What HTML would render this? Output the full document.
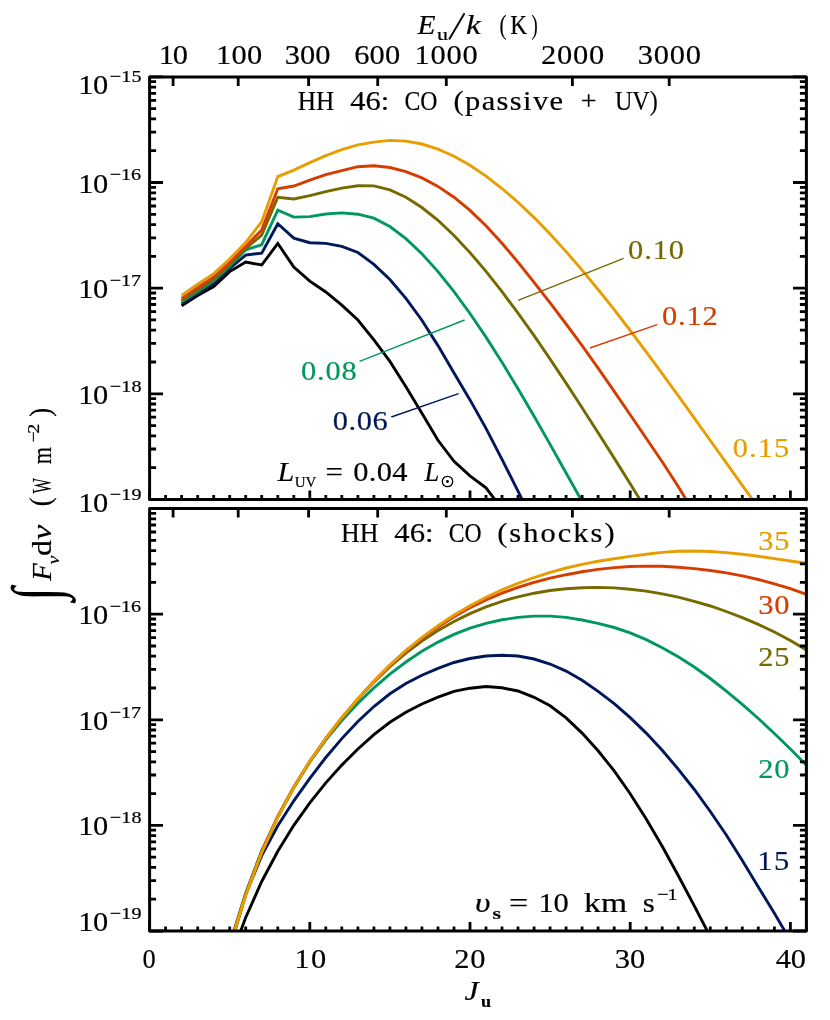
<!DOCTYPE html>
<html><head><meta charset="utf-8"><title>HH 46 CO</title>
<style>
html,body{margin:0;padding:0;background:#fff;}
svg{display:block;will-change:transform;}
text{font-family:"Liberation Serif",serif;fill:#000;}
.t{font-size:26.5px;letter-spacing:1.6px;}
.i{font-style:italic;}
</style></head><body>
<svg width="830" height="1020" viewBox="0 0 830 1020">
<rect width="830" height="1020" fill="#fff"/>
<defs>
<clipPath id="ct"><rect x="149.6" y="76.9" width="656.8" height="422.5"/></clipPath>
<clipPath id="cb"><rect x="149.6" y="508.6" width="656.8" height="422.4"/></clipPath>
</defs>
<g>
<polyline points="181.6,305.7 197.7,295.5 213.7,286.6 229.7,271.6 245.7,262.1 261.7,265.0 277.8,243.5 293.8,267.0 309.8,281.2 325.8,292.0 341.8,305.2 357.9,320.0 373.9,339.8 389.9,361.4 405.9,386.7 421.9,413.2 438.0,440.3 454.0,461.3 470.0,475.8 486.0,487.8 502.0,509.0" fill="none" stroke="#000000" stroke-width="2.9" stroke-linejoin="miter" stroke-miterlimit="6" clip-path="url(#ct)"/>
<polyline points="181.6,303.8 197.7,293.5 213.7,283.6 229.7,268.3 245.7,255.1 261.7,253.1 277.8,223.7 293.8,238.1 309.8,242.7 325.8,243.4 341.8,246.4 357.9,252.5 373.9,264.4 389.9,279.5 405.9,298.3 421.9,320.2 438.0,345.6 454.0,372.9 470.0,399.9 486.0,428.4 502.0,459.3 518.0,491.1 534.1,524.0" fill="none" stroke="#00185A" stroke-width="2.9" stroke-linejoin="miter" stroke-miterlimit="6" clip-path="url(#ct)"/>
<polyline points="181.6,301.8 197.7,291.5 213.7,280.9 229.7,266.3 245.7,249.8 261.7,244.7 277.8,210.1 293.8,217.1 309.8,216.6 325.8,214.0 341.8,212.9 357.9,214.2 373.9,218.1 389.9,226.5 405.9,238.6 421.9,253.8 438.0,271.6 454.0,291.6 470.0,313.5 486.0,337.1 502.0,362.3 518.0,388.7 534.1,416.2 550.1,444.4 566.1,473.0 582.1,501.5" fill="none" stroke="#00985C" stroke-width="2.9" stroke-linejoin="miter" stroke-miterlimit="6" clip-path="url(#ct)"/>
<polyline points="181.6,300.1 197.7,289.5 213.7,278.9 229.7,264.3 245.7,248.4 261.7,235.2 277.8,197.3 293.8,199.0 309.8,195.7 325.8,191.6 341.8,188.1 357.9,185.7 373.9,185.9 389.9,189.9 405.9,197.2 421.9,207.5 438.0,220.3 454.0,235.5 470.0,252.6 486.0,271.4 502.0,291.7 518.0,313.2 534.1,335.7 550.1,359.1 566.1,383.1 582.1,407.7 598.1,432.7 614.2,458.1 630.2,483.7 646.2,509.7" fill="none" stroke="#766900" stroke-width="2.9" stroke-linejoin="miter" stroke-miterlimit="6" clip-path="url(#ct)"/>
<polyline points="181.6,298.4 197.7,287.5 213.7,276.9 229.7,262.4 245.7,246.4 261.7,230.1 277.8,188.7 293.8,186.0 309.8,180.2 325.8,174.7 341.8,170.7 357.9,166.7 373.9,165.8 389.9,167.5 405.9,171.6 421.9,177.9 438.0,186.4 454.0,197.2 470.0,210.4 486.0,225.8 502.0,243.2 518.0,262.3 534.1,282.3 550.1,302.9 566.1,324.0 582.1,345.6 598.1,368.1 614.2,391.3 630.2,414.8 646.2,438.2 662.2,461.8 678.2,486.4 694.3,513.2" fill="none" stroke="#D63C00" stroke-width="2.9" stroke-linejoin="miter" stroke-miterlimit="6" clip-path="url(#ct)"/>
<polyline points="181.6,295.5 197.7,284.2 213.7,273.6 229.7,259.0 245.7,242.5 261.7,221.7 277.8,176.6 293.8,170.1 309.8,162.6 325.8,155.6 341.8,149.6 357.9,144.8 373.9,142.1 389.9,140.4 405.9,141.1 421.9,144.0 438.0,149.1 454.0,156.3 470.0,165.3 486.0,176.1 502.0,188.5 518.0,202.3 534.1,217.6 550.1,234.0 566.1,251.6 582.1,270.1 598.1,289.5 614.2,309.7 630.2,330.5 646.2,351.9 662.2,373.7 678.2,395.7 694.3,418.1 710.3,440.5 726.3,462.9 742.3,485.3 758.3,507.5" fill="none" stroke="#E89E00" stroke-width="2.9" stroke-linejoin="miter" stroke-miterlimit="6" clip-path="url(#ct)"/>
<polyline points="229.7,960.5 245.7,917.5 261.7,881.5 277.8,851.2 293.8,825.3 309.8,802.8 325.8,782.9 341.8,765.1 357.9,749.0 373.9,734.6 389.9,722.3 405.9,712.2 421.9,704.0 438.0,697.1 454.0,691.4 470.0,688.2 486.0,686.5 502.0,687.8 518.0,691.0 534.1,697.3 550.1,705.8 566.1,717.9 582.1,733.1 598.1,750.8 614.2,770.9 630.2,793.7 646.2,818.9 662.2,846.3 678.2,875.5 694.3,905.9 710.3,936.8" fill="none" stroke="#000000" stroke-width="2.9" stroke-linejoin="miter" stroke-miterlimit="6" clip-path="url(#cb)"/>
<polyline points="229.7,948.4 245.7,894.5 261.7,855.6 277.8,825.8 293.8,800.8 309.8,778.3 325.8,757.5 341.8,738.6 357.9,721.5 373.9,706.5 389.9,693.8 405.9,683.5 421.9,675.2 438.0,668.3 454.0,662.5 470.0,658.5 486.0,656.0 502.0,655.3 518.0,656.0 534.1,659.0 550.1,664.0 566.1,671.1 582.1,680.3 598.1,691.3 614.2,703.7 630.2,717.6 646.2,733.1 662.2,750.3 678.2,769.1 694.3,789.5 710.3,811.5 726.3,835.0 742.3,860.4 758.3,886.9 774.4,913.3 790.4,940.6" fill="none" stroke="#00185A" stroke-width="2.9" stroke-linejoin="miter" stroke-miterlimit="6" clip-path="url(#cb)"/>
<polyline points="229.7,944.3 245.7,893.0 261.7,850.9 277.8,816.4 293.8,787.1 309.8,761.9 325.8,739.8 341.8,720.5 357.9,703.3 373.9,687.9 389.9,674.2 405.9,662.0 421.9,651.3 438.0,642.1 454.0,634.4 470.0,628.2 486.0,623.4 502.0,619.8 518.0,617.4 534.1,616.1 550.1,616.1 566.1,617.4 582.1,620.0 598.1,623.4 614.2,627.5 630.2,632.8 646.2,639.6 662.2,647.7 678.2,656.8 694.3,667.0 710.3,678.5 726.3,691.1 742.3,704.4 758.3,718.5 774.4,733.5 790.4,749.0 806.4,765.2" fill="none" stroke="#00985C" stroke-width="2.9" stroke-linejoin="miter" stroke-miterlimit="6" clip-path="url(#cb)"/>
<polyline points="229.7,946.0 245.7,894.7 261.7,852.2 277.8,817.0 293.8,787.4 309.8,761.5 325.8,738.6 341.8,718.0 357.9,699.0 373.9,682.1 389.9,666.7 405.9,653.1 421.9,641.1 438.0,630.6 454.0,621.5 470.0,613.6 486.0,606.9 502.0,601.3 518.0,596.8 534.1,593.2 550.1,590.5 566.1,588.7 582.1,587.7 598.1,587.4 614.2,587.9 630.2,589.2 646.2,591.1 662.2,593.8 678.2,597.2 694.3,601.3 710.3,606.0 726.3,611.5 742.3,617.6 758.3,624.4 774.4,632.0 790.4,640.5 806.4,649.9" fill="none" stroke="#766900" stroke-width="2.9" stroke-linejoin="miter" stroke-miterlimit="6" clip-path="url(#cb)"/>
<polyline points="229.7,945.5 245.7,894.2 261.7,851.7 277.8,816.7 293.8,787.3 309.8,761.3 325.8,738.5 341.8,717.8 357.9,698.9 373.9,681.3 389.9,665.2 405.9,650.6 421.9,638.3 438.0,626.9 454.0,616.8 470.0,607.8 486.0,599.9 502.0,593.1 518.0,587.3 534.1,582.4 550.1,578.2 566.1,574.7 582.1,571.7 598.1,569.4 614.2,567.6 630.2,566.5 646.2,566.1 662.2,566.3 678.2,567.2 694.3,568.6 710.3,570.5 726.3,572.9 742.3,575.9 758.3,579.5 774.4,583.8 790.4,588.7 806.4,594.4" fill="none" stroke="#D63C00" stroke-width="2.9" stroke-linejoin="miter" stroke-miterlimit="6" clip-path="url(#cb)"/>
<polyline points="229.7,946.5 245.7,895.2 261.7,852.7 277.8,817.2 293.8,787.1 309.8,761.2 325.8,738.3 341.8,717.7 357.9,698.7 373.9,681.2 389.9,665.0 405.9,650.5 421.9,637.3 438.0,625.6 454.0,615.0 470.0,605.7 486.0,597.3 502.0,589.9 518.0,583.3 534.1,577.5 550.1,572.4 566.1,568.0 582.1,564.4 598.1,561.3 614.2,558.7 630.2,556.4 646.2,554.2 662.2,552.4 678.2,551.3 694.3,551.0 710.3,551.5 726.3,552.6 742.3,554.2 758.3,556.3 774.4,558.6 790.4,561.0 806.4,563.2" fill="none" stroke="#E89E00" stroke-width="2.9" stroke-linejoin="miter" stroke-miterlimit="6" clip-path="url(#cb)"/>
</g>
<line x1="359.5" y1="361.4" x2="464.6" y2="320.0" stroke="#00985C" stroke-width="1.35"/>
<line x1="391.3" y1="417.0" x2="458.6" y2="393.7" stroke="#00185A" stroke-width="1.35"/>
<line x1="518.1" y1="300.4" x2="623.6" y2="258.3" stroke="#766900" stroke-width="1.35"/>
<line x1="589.9" y1="348.0" x2="657.1" y2="324.6" stroke="#D63C00" stroke-width="1.35"/>
<path d="M149.6 499.4L149.6 490.4M165.6 499.4L165.6 494.9M181.6 499.4L181.6 494.9M197.7 499.4L197.7 494.9M213.7 499.4L213.7 494.9M229.7 499.4L229.7 494.9M245.7 499.4L245.7 494.9M261.7 499.4L261.7 494.9M277.8 499.4L277.8 494.9M293.8 499.4L293.8 494.9M309.8 499.4L309.8 490.4M325.8 499.4L325.8 494.9M341.8 499.4L341.8 494.9M357.9 499.4L357.9 494.9M373.9 499.4L373.9 494.9M389.9 499.4L389.9 494.9M405.9 499.4L405.9 494.9M421.9 499.4L421.9 494.9M438.0 499.4L438.0 494.9M454.0 499.4L454.0 494.9M470.0 499.4L470.0 490.4M486.0 499.4L486.0 494.9M502.0 499.4L502.0 494.9M518.0 499.4L518.0 494.9M534.1 499.4L534.1 494.9M550.1 499.4L550.1 494.9M566.1 499.4L566.1 494.9M582.1 499.4L582.1 494.9M598.1 499.4L598.1 494.9M614.2 499.4L614.2 494.9M630.2 499.4L630.2 490.4M646.2 499.4L646.2 494.9M662.2 499.4L662.2 494.9M678.2 499.4L678.2 494.9M694.3 499.4L694.3 494.9M710.3 499.4L710.3 494.9M726.3 499.4L726.3 494.9M742.3 499.4L742.3 494.9M758.3 499.4L758.3 494.9M774.4 499.4L774.4 494.9M790.4 499.4L790.4 490.4M806.4 499.4L806.4 494.9M173.1 76.9L173.1 85.9M238.2 76.9L238.2 85.9M308.6 76.9L308.6 85.9M377.7 76.9L377.7 85.9M446.3 76.9L446.3 85.9M572.4 76.9L572.4 85.9M669.2 76.9L669.2 85.9M149.6 499.4L163.0 499.4M806.4 499.4L793.0 499.4M149.6 467.6L156.1 467.6M806.4 467.6L799.9 467.6M149.6 449.0L156.1 449.0M806.4 449.0L799.9 449.0M149.6 435.8L156.1 435.8M806.4 435.8L799.9 435.8M149.6 425.6L156.1 425.6M806.4 425.6L799.9 425.6M149.6 417.2L156.1 417.2M806.4 417.2L799.9 417.2M149.6 410.1L156.1 410.1M806.4 410.1L799.9 410.1M149.6 404.0L156.1 404.0M806.4 404.0L799.9 404.0M149.6 398.6L156.1 398.6M806.4 398.6L799.9 398.6M149.6 393.8L163.0 393.8M806.4 393.8L793.0 393.8M149.6 362.0L156.1 362.0M806.4 362.0L799.9 362.0M149.6 343.4L156.1 343.4M806.4 343.4L799.9 343.4M149.6 330.2L156.1 330.2M806.4 330.2L799.9 330.2M149.6 319.9L156.1 319.9M806.4 319.9L799.9 319.9M149.6 311.6L156.1 311.6M806.4 311.6L799.9 311.6M149.6 304.5L156.1 304.5M806.4 304.5L799.9 304.5M149.6 298.4L156.1 298.4M806.4 298.4L799.9 298.4M149.6 293.0L156.1 293.0M806.4 293.0L799.9 293.0M149.6 288.1L163.0 288.1M806.4 288.1L793.0 288.1M149.6 256.4L156.1 256.4M806.4 256.4L799.9 256.4M149.6 237.8L156.1 237.8M806.4 237.8L799.9 237.8M149.6 224.6L156.1 224.6M806.4 224.6L799.9 224.6M149.6 214.3L156.1 214.3M806.4 214.3L799.9 214.3M149.6 206.0L156.1 206.0M806.4 206.0L799.9 206.0M149.6 198.9L156.1 198.9M806.4 198.9L799.9 198.9M149.6 192.8L156.1 192.8M806.4 192.8L799.9 192.8M149.6 187.4L156.1 187.4M806.4 187.4L799.9 187.4M149.6 182.5L163.0 182.5M806.4 182.5L793.0 182.5M149.6 150.7L156.1 150.7M806.4 150.7L799.9 150.7M149.6 132.1L156.1 132.1M806.4 132.1L799.9 132.1M149.6 118.9L156.1 118.9M806.4 118.9L799.9 118.9M149.6 108.7L156.1 108.7M806.4 108.7L799.9 108.7M149.6 100.3L156.1 100.3M806.4 100.3L799.9 100.3M149.6 93.3L156.1 93.3M806.4 93.3L799.9 93.3M149.6 87.1L156.1 87.1M806.4 87.1L799.9 87.1M149.6 81.7L156.1 81.7M806.4 81.7L799.9 81.7M149.6 76.9L163.0 76.9M806.4 76.9L793.0 76.9M149.6 931.0L149.6 922.0M165.6 931.0L165.6 926.5M181.6 931.0L181.6 926.5M197.7 931.0L197.7 926.5M213.7 931.0L213.7 926.5M229.7 931.0L229.7 926.5M245.7 931.0L245.7 926.5M261.7 931.0L261.7 926.5M277.8 931.0L277.8 926.5M293.8 931.0L293.8 926.5M309.8 931.0L309.8 922.0M325.8 931.0L325.8 926.5M341.8 931.0L341.8 926.5M357.9 931.0L357.9 926.5M373.9 931.0L373.9 926.5M389.9 931.0L389.9 926.5M405.9 931.0L405.9 926.5M421.9 931.0L421.9 926.5M438.0 931.0L438.0 926.5M454.0 931.0L454.0 926.5M470.0 931.0L470.0 922.0M486.0 931.0L486.0 926.5M502.0 931.0L502.0 926.5M518.0 931.0L518.0 926.5M534.1 931.0L534.1 926.5M550.1 931.0L550.1 926.5M566.1 931.0L566.1 926.5M582.1 931.0L582.1 926.5M598.1 931.0L598.1 926.5M614.2 931.0L614.2 926.5M630.2 931.0L630.2 922.0M646.2 931.0L646.2 926.5M662.2 931.0L662.2 926.5M678.2 931.0L678.2 926.5M694.3 931.0L694.3 926.5M710.3 931.0L710.3 926.5M726.3 931.0L726.3 926.5M742.3 931.0L742.3 926.5M758.3 931.0L758.3 926.5M774.4 931.0L774.4 926.5M790.4 931.0L790.4 922.0M806.4 931.0L806.4 926.5M173.1 508.6L173.1 517.6M238.2 508.6L238.2 517.6M308.6 508.6L308.6 517.6M377.7 508.6L377.7 517.6M446.3 508.6L446.3 517.6M572.4 508.6L572.4 517.6M669.2 508.6L669.2 517.6M149.6 931.0L163.0 931.0M806.4 931.0L793.0 931.0M149.6 899.2L156.1 899.2M806.4 899.2L799.9 899.2M149.6 880.6L156.1 880.6M806.4 880.6L799.9 880.6M149.6 867.4L156.1 867.4M806.4 867.4L799.9 867.4M149.6 857.2L156.1 857.2M806.4 857.2L799.9 857.2M149.6 848.8L156.1 848.8M806.4 848.8L799.9 848.8M149.6 841.8L156.1 841.8M806.4 841.8L799.9 841.8M149.6 835.6L156.1 835.6M806.4 835.6L799.9 835.6M149.6 830.2L156.1 830.2M806.4 830.2L799.9 830.2M149.6 825.4L163.0 825.4M806.4 825.4L793.0 825.4M149.6 793.6L156.1 793.6M806.4 793.6L799.9 793.6M149.6 775.0L156.1 775.0M806.4 775.0L799.9 775.0M149.6 761.8L156.1 761.8M806.4 761.8L799.9 761.8M149.6 751.6L156.1 751.6M806.4 751.6L799.9 751.6M149.6 743.2L156.1 743.2M806.4 743.2L799.9 743.2M149.6 736.2L156.1 736.2M806.4 736.2L799.9 736.2M149.6 730.0L156.1 730.0M806.4 730.0L799.9 730.0M149.6 724.6L156.1 724.6M806.4 724.6L799.9 724.6M149.6 719.8L163.0 719.8M806.4 719.8L793.0 719.8M149.6 688.0L156.1 688.0M806.4 688.0L799.9 688.0M149.6 669.4L156.1 669.4M806.4 669.4L799.9 669.4M149.6 656.2L156.1 656.2M806.4 656.2L799.9 656.2M149.6 646.0L156.1 646.0M806.4 646.0L799.9 646.0M149.6 637.6L156.1 637.6M806.4 637.6L799.9 637.6M149.6 630.6L156.1 630.6M806.4 630.6L799.9 630.6M149.6 624.4L156.1 624.4M806.4 624.4L799.9 624.4M149.6 619.0L156.1 619.0M806.4 619.0L799.9 619.0M149.6 614.2L163.0 614.2M806.4 614.2L793.0 614.2M149.6 582.4L156.1 582.4M806.4 582.4L799.9 582.4M149.6 563.8L156.1 563.8M806.4 563.8L799.9 563.8M149.6 550.6L156.1 550.6M806.4 550.6L799.9 550.6M149.6 540.4L156.1 540.4M806.4 540.4L799.9 540.4M149.6 532.0L156.1 532.0M806.4 532.0L799.9 532.0M149.6 525.0L156.1 525.0M806.4 525.0L799.9 525.0M149.6 518.8L156.1 518.8M806.4 518.8L799.9 518.8M149.6 513.4L156.1 513.4M806.4 513.4L799.9 513.4M149.6 508.6L163.0 508.6M806.4 508.6L793.0 508.6" stroke="#000" stroke-width="2.8" fill="none"/>
<rect x="149.6" y="76.9" width="656.8" height="422.5" fill="none" stroke="#000" stroke-width="3.0" stroke-linejoin="round"/>
<rect x="149.6" y="508.6" width="656.8" height="422.4" fill="none" stroke="#000" stroke-width="3.0" stroke-linejoin="round"/>
<g id="rotg" transform="translate(50.7,603.7) rotate(-90)">
<text id="y1" x="3.20" y="7.0" textLength="13.36" lengthAdjust="spacingAndGlyphs" style="font-size:66.3px;fill:#000000;stroke:#000000;stroke-width:0.18px;">∫</text>
<text id="y2" x="22.90" y="0.0" textLength="17.49" lengthAdjust="spacingAndGlyphs" style="font-size:28px;fill:#000000;stroke:#000000;stroke-width:0.18px;font-style:italic;">F</text>
<text id="y3" x="39.50" y="8.7" textLength="8.59" lengthAdjust="spacingAndGlyphs" style="font-size:17.5px;fill:#000000;stroke:#000000;stroke-width:0.22px;font-style:italic;">ν</text>
<text id="y4" x="47.80" y="0.0" textLength="15.83" lengthAdjust="spacingAndGlyphs" style="font-size:26.5px;fill:#000000;stroke:#000000;stroke-width:0.18px;">d</text>
<text id="y5" x="63.90" y="0.0" textLength="14.96" lengthAdjust="spacingAndGlyphs" style="font-size:26.5px;fill:#000000;stroke:#000000;stroke-width:0.18px;font-style:italic;">ν</text>
<text id="y6" x="97.40" y="-1.0" textLength="8.96" lengthAdjust="spacingAndGlyphs" style="font-size:28.7px;fill:#000000;stroke:#000000;stroke-width:0.18px;">(</text>
<text id="y7" x="110.30" y="0.0" textLength="15.38" lengthAdjust="spacingAndGlyphs" style="font-size:26.5px;fill:#000000;stroke:#000000;stroke-width:0.18px;">W</text>
<text id="y8" x="139.40" y="0.0" textLength="17.29" lengthAdjust="spacingAndGlyphs" style="font-size:26.5px;fill:#000000;stroke:#000000;stroke-width:0.18px;">m</text>
<text id="y9" x="161.10" y="-11.8" textLength="16.20" lengthAdjust="spacingAndGlyphs" style="font-size:17.5px;fill:#000000;stroke:#000000;stroke-width:0.22px;letter-spacing:-2.266px;">−2</text>
<text id="y10" x="187.00" y="-1.0" textLength="8.86" lengthAdjust="spacingAndGlyphs" style="font-size:28.7px;fill:#000000;stroke:#000000;stroke-width:0.18px;">)</text>
</g>
<text id="te10" x="158.80" y="64.3" textLength="28.00" lengthAdjust="spacingAndGlyphs" style="font-size:26.5px;fill:#000000;stroke:#000000;stroke-width:0.18px;letter-spacing:-1.076px;">10</text>
<text id="te100" x="215.90" y="64.3" textLength="46.80" lengthAdjust="spacingAndGlyphs" style="font-size:26.5px;fill:#000000;stroke:#000000;stroke-width:0.18px;letter-spacing:0.315px;">100</text>
<text id="te300" x="284.80" y="64.3" textLength="45.70" lengthAdjust="spacingAndGlyphs" style="font-size:26.5px;fill:#000000;stroke:#000000;stroke-width:0.18px;letter-spacing:-0.004px;">300</text>
<text id="te600" x="354.20" y="64.3" textLength="46.10" lengthAdjust="spacingAndGlyphs" style="font-size:26.5px;fill:#000000;stroke:#000000;stroke-width:0.18px;letter-spacing:0.112px;">600</text>
<text id="te1000" x="414.50" y="64.3" textLength="64.10" lengthAdjust="spacingAndGlyphs" style="font-size:26.5px;fill:#000000;stroke:#000000;stroke-width:0.18px;letter-spacing:0.685px;">1000</text>
<text id="te2000" x="540.90" y="64.3" textLength="64.30" lengthAdjust="spacingAndGlyphs" style="font-size:26.5px;fill:#000000;stroke:#000000;stroke-width:0.18px;letter-spacing:0.728px;">2000</text>
<text id="te3000" x="637.70" y="64.3" textLength="64.00" lengthAdjust="spacingAndGlyphs" style="font-size:26.5px;fill:#000000;stroke:#000000;stroke-width:0.18px;letter-spacing:0.663px;">3000</text>
<text id="bj0" x="142.60" y="968.0" textLength="37.11" lengthAdjust="spacing" style="font-size:26.5px;fill:#000000;stroke:#000000;stroke-width:0.18px;">0</text>
<text id="bj10" x="294.40" y="968.0" textLength="33.30" lengthAdjust="spacingAndGlyphs" style="font-size:26.5px;fill:#000000;stroke:#000000;stroke-width:0.18px;letter-spacing:1.228px;">10</text>
<text id="bj20" x="454.20" y="968.0" textLength="32.00" lengthAdjust="spacingAndGlyphs" style="font-size:26.5px;fill:#000000;stroke:#000000;stroke-width:0.18px;letter-spacing:0.663px;">20</text>
<text id="bj30" x="614.70" y="968.0" textLength="30.60" lengthAdjust="spacingAndGlyphs" style="font-size:26.5px;fill:#000000;stroke:#000000;stroke-width:0.18px;letter-spacing:0.054px;">30</text>
<text id="bj40" x="775.70" y="968.0" textLength="30.20" lengthAdjust="spacingAndGlyphs" style="font-size:26.5px;fill:#000000;stroke:#000000;stroke-width:0.18px;letter-spacing:-0.120px;">40</text>
<text id="yl0" x="78.30" y="94.2" textLength="29.50" lengthAdjust="spacingAndGlyphs" style="font-size:26.5px;fill:#000000;stroke:#000000;stroke-width:0.18px;letter-spacing:-0.424px;">10</text>
<text id="ys0" x="109.70" y="82.0" textLength="32.20" lengthAdjust="spacingAndGlyphs" style="font-size:17.5px;fill:#000000;stroke:#000000;stroke-width:0.22px;letter-spacing:0.210px;">−15</text>
<text id="yl1" x="78.30" y="192.5" textLength="29.50" lengthAdjust="spacingAndGlyphs" style="font-size:26.5px;fill:#000000;stroke:#000000;stroke-width:0.18px;letter-spacing:-0.424px;">10</text>
<text id="ys1" x="109.70" y="180.3" textLength="31.30" lengthAdjust="spacingAndGlyphs" style="font-size:17.5px;fill:#000000;stroke:#000000;stroke-width:0.22px;letter-spacing:-0.051px;">−16</text>
<text id="yl2" x="78.30" y="298.1" textLength="29.50" lengthAdjust="spacingAndGlyphs" style="font-size:26.5px;fill:#000000;stroke:#000000;stroke-width:0.18px;letter-spacing:-0.424px;">10</text>
<text id="ys2" x="109.70" y="285.9" textLength="31.30" lengthAdjust="spacingAndGlyphs" style="font-size:17.5px;fill:#000000;stroke:#000000;stroke-width:0.22px;letter-spacing:-0.051px;">−17</text>
<text id="yl3" x="78.30" y="403.7" textLength="29.50" lengthAdjust="spacingAndGlyphs" style="font-size:26.5px;fill:#000000;stroke:#000000;stroke-width:0.18px;letter-spacing:-0.424px;">10</text>
<text id="ys3" x="109.70" y="391.5" textLength="32.20" lengthAdjust="spacingAndGlyphs" style="font-size:17.5px;fill:#000000;stroke:#000000;stroke-width:0.22px;letter-spacing:0.210px;">−18</text>
<text id="yl4" x="78.30" y="512.1" textLength="29.50" lengthAdjust="spacingAndGlyphs" style="font-size:26.5px;fill:#000000;stroke:#000000;stroke-width:0.18px;letter-spacing:-0.424px;">10</text>
<text id="ys4" x="109.70" y="499.9" textLength="32.20" lengthAdjust="spacingAndGlyphs" style="font-size:17.5px;fill:#000000;stroke:#000000;stroke-width:0.22px;letter-spacing:0.210px;">−19</text>
<text id="yl5" x="78.30" y="624.2" textLength="29.50" lengthAdjust="spacingAndGlyphs" style="font-size:26.5px;fill:#000000;stroke:#000000;stroke-width:0.18px;letter-spacing:-0.424px;">10</text>
<text id="ys5" x="109.70" y="612.0" textLength="31.30" lengthAdjust="spacingAndGlyphs" style="font-size:17.5px;fill:#000000;stroke:#000000;stroke-width:0.22px;letter-spacing:-0.051px;">−16</text>
<text id="yl6" x="78.30" y="729.8" textLength="29.50" lengthAdjust="spacingAndGlyphs" style="font-size:26.5px;fill:#000000;stroke:#000000;stroke-width:0.18px;letter-spacing:-0.424px;">10</text>
<text id="ys6" x="109.70" y="717.6" textLength="31.30" lengthAdjust="spacingAndGlyphs" style="font-size:17.5px;fill:#000000;stroke:#000000;stroke-width:0.22px;letter-spacing:-0.051px;">−17</text>
<text id="yl7" x="78.30" y="835.4" textLength="29.50" lengthAdjust="spacingAndGlyphs" style="font-size:26.5px;fill:#000000;stroke:#000000;stroke-width:0.18px;letter-spacing:-0.424px;">10</text>
<text id="ys7" x="109.70" y="823.2" textLength="32.20" lengthAdjust="spacingAndGlyphs" style="font-size:17.5px;fill:#000000;stroke:#000000;stroke-width:0.22px;letter-spacing:0.210px;">−18</text>
<text id="yl8" x="78.30" y="931.0" textLength="29.50" lengthAdjust="spacingAndGlyphs" style="font-size:26.5px;fill:#000000;stroke:#000000;stroke-width:0.18px;letter-spacing:-0.424px;">10</text>
<text id="ys8" x="109.70" y="918.8" textLength="32.20" lengthAdjust="spacingAndGlyphs" style="font-size:17.5px;fill:#000000;stroke:#000000;stroke-width:0.22px;letter-spacing:0.210px;">−19</text>
<text id="tt1" x="297.70" y="109.8" textLength="36.50" lengthAdjust="spacingAndGlyphs" style="font-size:26.5px;fill:#000000;stroke:#000000;stroke-width:0.18px;">HH</text>
<text id="tt2" x="350.20" y="109.8" textLength="38.99" lengthAdjust="spacingAndGlyphs" style="font-size:26.5px;fill:#000000;stroke:#000000;stroke-width:0.18px;">46:</text>
<text id="tt3" x="404.40" y="109.8" textLength="33.06" lengthAdjust="spacingAndGlyphs" style="font-size:26.5px;fill:#000000;stroke:#000000;stroke-width:0.18px;">CO</text>
<text id="tt4" x="453.60" y="109.8" textLength="110.80" lengthAdjust="spacingAndGlyphs" style="font-size:26.5px;fill:#000000;stroke:#000000;stroke-width:0.18px;letter-spacing:1.189px;">(passive</text>
<text id="tt5" x="580.70" y="109.8" textLength="15.84" lengthAdjust="spacingAndGlyphs" style="font-size:26.5px;fill:#000000;stroke:#000000;stroke-width:0.18px;">+</text>
<text id="tt6" x="614.90" y="109.8" textLength="42.78" lengthAdjust="spacingAndGlyphs" style="font-size:26.5px;fill:#000000;stroke:#000000;stroke-width:0.18px;">UV)</text>
<text id="tb1" x="341.10" y="541.8" textLength="37.47" lengthAdjust="spacingAndGlyphs" style="font-size:26.5px;fill:#000000;stroke:#000000;stroke-width:0.18px;">HH</text>
<text id="tb2" x="394.30" y="541.8" textLength="39.23" lengthAdjust="spacingAndGlyphs" style="font-size:26.5px;fill:#000000;stroke:#000000;stroke-width:0.18px;">46:</text>
<text id="tb3" x="448.70" y="541.8" textLength="32.92" lengthAdjust="spacingAndGlyphs" style="font-size:26.5px;fill:#000000;stroke:#000000;stroke-width:0.18px;">CO</text>
<text id="tb4" x="497.20" y="541.8" textLength="119.50" lengthAdjust="spacingAndGlyphs" style="font-size:26.5px;fill:#000000;stroke:#000000;stroke-width:0.18px;letter-spacing:1.766px;">(shocks)</text>
<text id="e1" x="417.50" y="34.0" textLength="17.97" lengthAdjust="spacingAndGlyphs" style="font-size:26.5px;fill:#000000;stroke:#000000;stroke-width:0.18px;font-style:italic;">E</text>
<text id="e2" x="437.00" y="39.7" textLength="11.01" lengthAdjust="spacingAndGlyphs" style="font-size:17.5px;fill:#000000;stroke:#000000;stroke-width:0.22px;">u</text>
<text id="e4" x="466.10" y="34.0" textLength="14.67" lengthAdjust="spacingAndGlyphs" style="font-size:26.5px;fill:#000000;stroke:#000000;stroke-width:0.18px;font-style:italic;">k</text>
<text id="e5" x="499.50" y="34.0" textLength="7.05" lengthAdjust="spacingAndGlyphs" style="font-size:27.8px;fill:#000000;stroke:#000000;stroke-width:0.18px;">(</text>
<text id="e6" x="510.20" y="34.0" textLength="16.96" lengthAdjust="spacingAndGlyphs" style="font-size:26.5px;fill:#000000;stroke:#000000;stroke-width:0.18px;">K</text>
<text id="e7" x="531.40" y="34.0" textLength="6.22" lengthAdjust="spacingAndGlyphs" style="font-size:27.8px;fill:#000000;stroke:#000000;stroke-width:0.18px;">)</text>
<text id="j1" x="464.50" y="1000.0" textLength="14.10" lengthAdjust="spacingAndGlyphs" style="font-size:28px;fill:#000000;stroke:#000000;stroke-width:0.18px;font-style:italic;">J</text>
<text id="j2" x="481.10" y="1006.9" textLength="10.07" lengthAdjust="spacingAndGlyphs" style="font-size:17.5px;fill:#000000;stroke:#000000;stroke-width:0.22px;font-weight:bold;">u</text>
<text id="l1" x="277.40" y="480.5" textLength="16.75" lengthAdjust="spacingAndGlyphs" style="font-size:26.5px;fill:#000000;stroke:#000000;stroke-width:0.18px;font-style:italic;">L</text>
<text id="l2" x="294.70" y="487.2" textLength="21.73" lengthAdjust="spacingAndGlyphs" style="font-size:15.5px;fill:#000000;stroke:#000000;stroke-width:0.22px;">UV</text>
<text id="l3" x="325.50" y="480.5" textLength="17.43" lengthAdjust="spacingAndGlyphs" style="font-size:26.5px;fill:#000000;stroke:#000000;stroke-width:0.18px;">=</text>
<text id="l4" x="353.30" y="480.5" textLength="54.60" lengthAdjust="spacingAndGlyphs" style="font-size:26.5px;fill:#000000;stroke:#000000;stroke-width:0.18px;letter-spacing:0.276px;">0.04</text>
<text id="l5" x="424.50" y="480.5" textLength="14.74" lengthAdjust="spacingAndGlyphs" style="font-size:26.5px;fill:#000000;stroke:#000000;stroke-width:0.18px;font-style:italic;">L</text>
<text id="v1" x="475.10" y="911.8" textLength="15.48" lengthAdjust="spacingAndGlyphs" style="font-size:26.5px;fill:#000000;stroke:#000000;stroke-width:0.18px;font-style:italic;">υ</text>
<text id="v2" x="492.60" y="919.0" textLength="8.40" lengthAdjust="spacingAndGlyphs" style="font-size:17.5px;fill:#000000;stroke:#000000;stroke-width:0.22px;font-weight:bold;">s</text>
<text id="v3" x="508.90" y="911.8" textLength="19.23" lengthAdjust="spacingAndGlyphs" style="font-size:26.5px;fill:#000000;stroke:#000000;stroke-width:0.18px;">=</text>
<text id="v4" x="538.60" y="911.8" textLength="29.70" lengthAdjust="spacingAndGlyphs" style="font-size:26.5px;fill:#000000;stroke:#000000;stroke-width:0.18px;letter-spacing:-0.337px;">10</text>
<text id="v5" x="584.10" y="911.8" textLength="42.95" lengthAdjust="spacingAndGlyphs" style="font-size:26.5px;fill:#000000;stroke:#000000;stroke-width:0.18px;">km</text>
<text id="v6" x="642.80" y="911.8" textLength="12.02" lengthAdjust="spacingAndGlyphs" style="font-size:26.5px;fill:#000000;stroke:#000000;stroke-width:0.18px;">s</text>
<text id="v7" x="657.30" y="900.2" textLength="18.90" lengthAdjust="spacingAndGlyphs" style="font-size:17.5px;fill:#000000;stroke:#000000;stroke-width:0.22px;letter-spacing:-1.092px;">−1</text>
<text id="c08" x="300.90" y="379.5" textLength="56.70" lengthAdjust="spacingAndGlyphs" style="font-size:26.5px;fill:#00985C;stroke:#00985C;stroke-width:0.18px;letter-spacing:0.732px;">0.08</text>
<text id="c06" x="332.70" y="429.6" textLength="55.80" lengthAdjust="spacingAndGlyphs" style="font-size:26.5px;fill:#00185A;stroke:#00185A;stroke-width:0.18px;letter-spacing:0.537px;">0.06</text>
<text id="c10" x="628.10" y="258.8" textLength="56.70" lengthAdjust="spacingAndGlyphs" style="font-size:26.5px;fill:#766900;stroke:#766900;stroke-width:0.18px;letter-spacing:0.732px;">0.10</text>
<text id="c12" x="661.90" y="324.6" textLength="56.70" lengthAdjust="spacingAndGlyphs" style="font-size:26.5px;fill:#D63C00;stroke:#D63C00;stroke-width:0.18px;letter-spacing:0.732px;">0.12</text>
<text id="c15" x="732.80" y="456.7" textLength="57.60" lengthAdjust="spacingAndGlyphs" style="font-size:26.5px;fill:#E89E00;stroke:#E89E00;stroke-width:0.18px;letter-spacing:0.928px;">0.15</text>
<text id="c35" x="758.20" y="550.4" textLength="31.90" lengthAdjust="spacingAndGlyphs" style="font-size:26.5px;fill:#E89E00;stroke:#E89E00;stroke-width:0.18px;letter-spacing:0.620px;">35</text>
<text id="c30" x="758.20" y="614.3" textLength="31.90" lengthAdjust="spacingAndGlyphs" style="font-size:26.5px;fill:#D63C00;stroke:#D63C00;stroke-width:0.18px;letter-spacing:0.620px;">30</text>
<text id="c25" x="758.20" y="666.4" textLength="31.90" lengthAdjust="spacingAndGlyphs" style="font-size:26.5px;fill:#766900;stroke:#766900;stroke-width:0.18px;letter-spacing:0.620px;">25</text>
<text id="c20" x="758.20" y="778.0" textLength="31.90" lengthAdjust="spacingAndGlyphs" style="font-size:26.5px;fill:#00985C;stroke:#00985C;stroke-width:0.18px;letter-spacing:0.620px;">20</text>
<text id="c15b" x="757.20" y="870.2" textLength="33.70" lengthAdjust="spacingAndGlyphs" style="font-size:26.5px;fill:#00185A;stroke:#00185A;stroke-width:0.18px;letter-spacing:1.402px;">15</text>
<line x1="449.1" y1="39.4" x2="464.5" y2="13.3" stroke="#000" stroke-width="1.9"/>
<circle cx="447.5" cy="481.5" r="5.2" fill="none" stroke="#000" stroke-width="1.3"/><circle cx="447.5" cy="481.5" r="1.4" fill="#000"/>
</svg></body></html>
